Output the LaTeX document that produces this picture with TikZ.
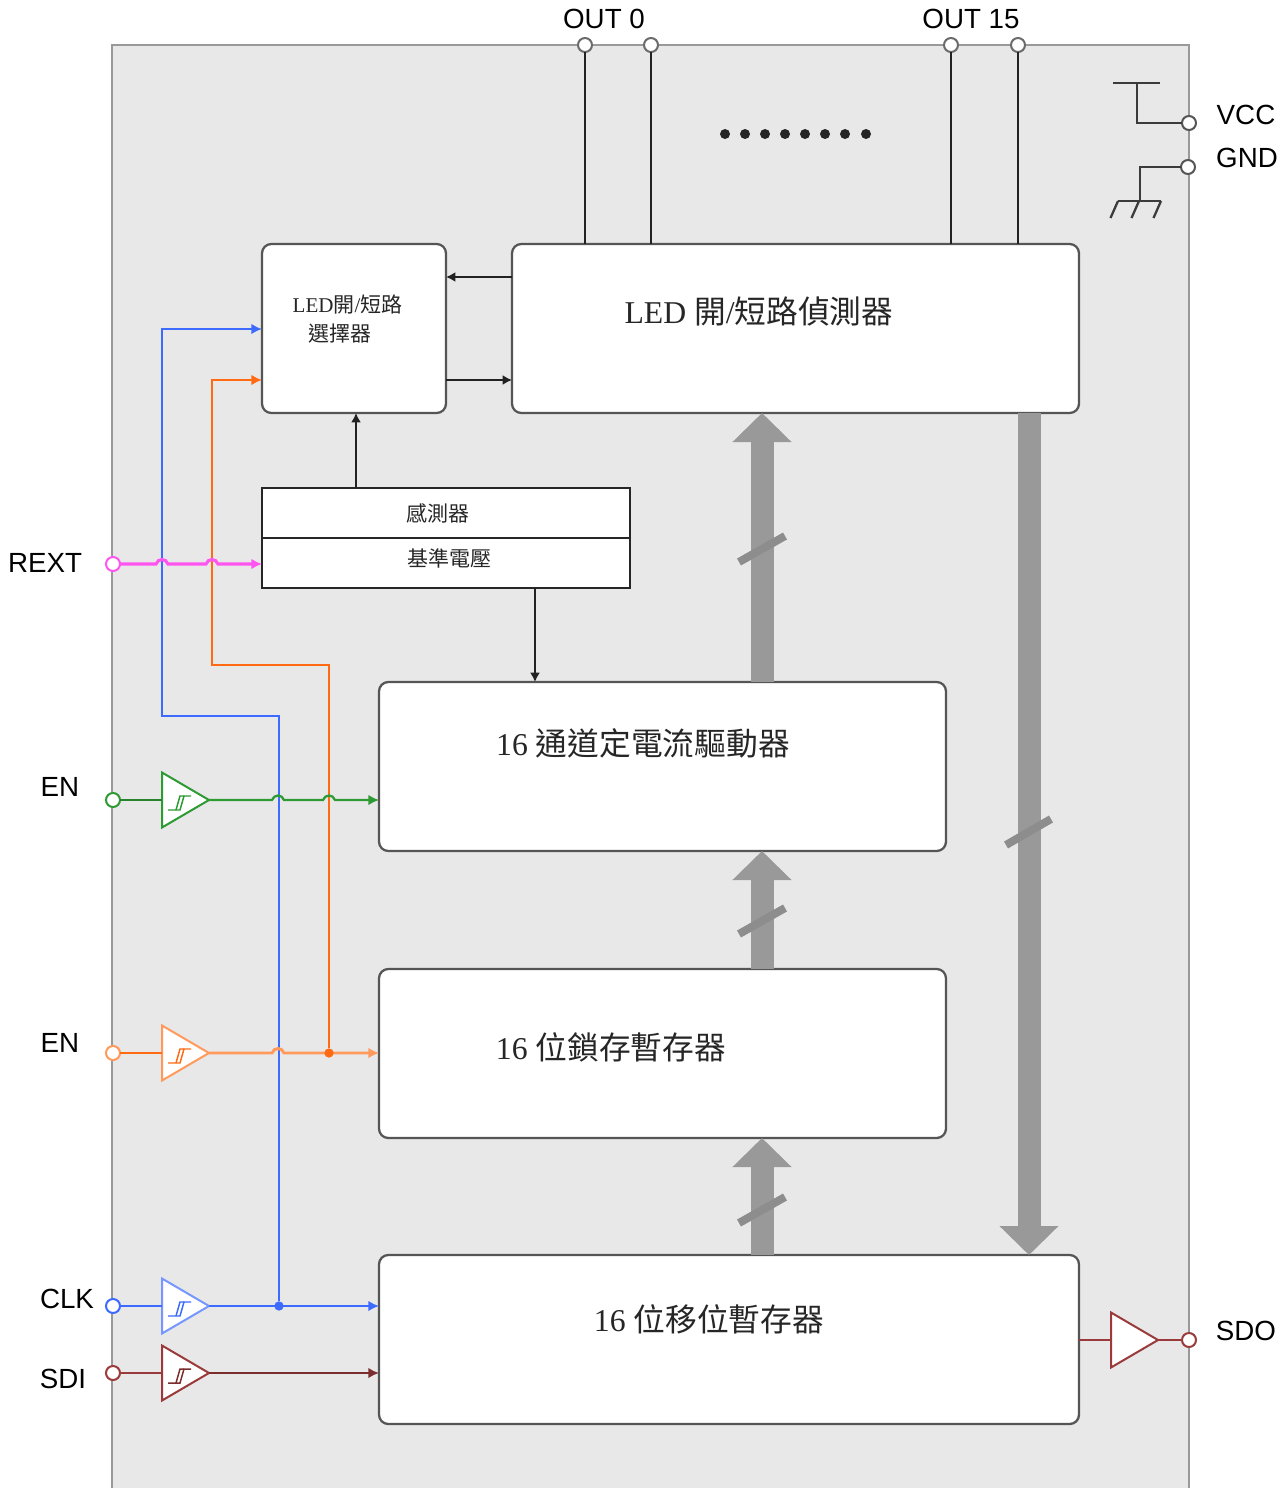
\documentclass[tikz,border=0pt]{standalone}
\usepackage{fontspec}
\setmainfont{Liberation Serif}
\newfontfamily\cjk{Noto Sans CJK TC}
\newfontfamily\pinfont{Liberation Sans}
\definecolor{chipgray}{HTML}{E8E8E8}
\definecolor{rimgray}{HTML}{999999}
\definecolor{busgray}{HTML}{999999}
\definecolor{boxedge}{HTML}{555555}
\definecolor{wiredark}{HTML}{222222}
\definecolor{enablegreen}{HTML}{2E9A34}
\definecolor{latchorange}{HTML}{FF6A13}
\definecolor{latchpale}{HTML}{FF9A5C}
\definecolor{clockblue}{HTML}{3D6BFF}
\definecolor{datared}{HTML}{9A3A3A}
\definecolor{rextpink}{HTML}{FF55F0}
\usetikzlibrary{arrows.meta,shapes.geometric}
\tikzset{
    block/.style 2 args={draw=boxedge, fill=white, rounded corners=7pt, line width=1.7pt, anchor=north west, outer sep=0pt, inner sep=0pt, minimum width=#1*0.75pt, minimum height=#2*0.75pt},
    cell/.style={draw=black!85, fill=white, line width=1.5pt, anchor=north west, outer sep=0pt, inner sep=0pt, minimum width=276pt, minimum height=37.5pt},
    pin/.style={circle, draw=#1, fill=white, line width=1.5pt, minimum size=10.5pt, inner sep=0pt, outer sep=0pt},
    buffer/.style={isosceles triangle, isosceles triangle apex angle=60, isosceles triangle stretches, draw=#1, fill=white, line width=1.5pt, minimum width=41.25pt, minimum height=35.25pt, inner sep=0pt, outer sep=0pt, anchor=lower side},
    junction/.style={circle, fill=#1, minimum size=7pt, inner sep=0pt, outer sep=0pt},
    pin_label/.style={font=\pinfont\fontsize{20.8pt}{22pt}\selectfont, text=black},
    big_label/.style={font=\fontsize{23.8pt}{28pt}\selectfont, text=black!85},
    small_label/.style={font=\fontsize{15.75pt}{18pt}\selectfont, text=black!85},
    bus_arrow/.style={-{Triangle[length=21.75pt,width=43pt]}, line width=17.25pt, busgray},
    bus_slash/.style={line width=6pt, busgray!92!black},
    ctrl_arrow/.style={-{Latex[length=7pt,width=7.5pt]}, line width=1.5pt, wiredark},
    sig_arrow/.style={-{Latex[length=8pt,width=8pt]}, line width=#1},
    schmitt/.pic={
      \draw[line width=1.1pt] (-12,7) -- (0,7) -- (4,-7) -- (11,-7);
      \draw[line width=1.1pt] (-4,7) -- (0,-7) -- (4,-7);
    }
}
% bump of a wire over a crossing wire
\newcommand{\hopover}[2]{-- (#1-6,#2) .. controls (#1-4,#2-6) and (#1+4,#2-6) .. (#1+6,#2)}

\begin{document}
\begin{tikzpicture}[x=0.75pt, y=-0.75pt]
  \useasboundingbox (0,0) rectangle (1287,1488);

  % Chip body, open at the bottom
  \fill[chipgray] (112,45) rectangle (1189,1488);
  \draw[rimgray, line width=1.7pt] (112,1488) |- (1189,45) -- (1189,1488);

  % Blocks
  \node[block={184}{169}] (sel_box) at (262,244) {};
  \node[block={567}{169}] (det_box) at (512,244) {};
  \node[block={567}{169}] (drv_box) at (379,682) {};
  \node[block={567}{169}] (lat_box) at (379,969) {};
  \node[block={700}{169}] (shf_box) at (379,1255) {};
  \node[cell] (sense_cell) at (262,487.5) {};
  \node[cell] (vref_cell) at (262,537.5) {};

  % Block texts
  \node[small_label, anchor=west] (sel_text_a) at (288,305) {LED{\cjk 開}/{\cjk 短路}};
  \node[small_label] (sel_text_b) at (340,334) {\cjk 選擇器};
  \node[big_label] (det_text) at (759,311) {LED {\cjk 開}/{\cjk 短路偵測器}};
  \node[big_label] (drv_text) at (643,743) {16 {\cjk 通道定電流驅動器}};
  \node[big_label] (lat_text) at (611,1047) {16 {\cjk 位鎖存暫存器}};
  \node[big_label] (shf_text) at (709,1319) {16 {\cjk 位移位暫存器}};
  \node[small_label] (sense_text) at (438,513) {\cjk 感測器};
  \node[small_label] (vref_text) at (449,558) {\cjk 基準電壓};

  % Pins
  \node[pin=rimgray!70!black] (out_a) at (585,45) {};
  \node[pin=rimgray!70!black] (out_b) at (651,45) {};
  \node[pin=rimgray!70!black] (out_c) at (951,45) {};
  \node[pin=rimgray!70!black] (out_d) at (1018,45) {};
  \node[pin=boxedge] (vcc_pin) at (1189,123) {};
  \node[pin=boxedge] (gnd_pin) at (1188,167) {};
  \node[pin=rextpink] (rext_pin) at (113,564) {};
  \node[pin=enablegreen] (en_a_pin) at (113,800) {};
  \node[pin=latchpale] (en_b_pin) at (113,1053) {};
  \node[pin=clockblue] (clk_pin) at (113,1306) {};
  \node[pin=datared] (sdi_pin) at (113,1373) {};
  \node[pin=datared] (sdo_pin) at (1189,1340) {};

  % Pin labels
  \node[pin_label] (out_a_text) at (604,19) {OUT 0};
  \node[pin_label] (out_d_text) at (971,19) {OUT 15};
  \node[pin_label] (vcc_text) at (1246,115) {VCC};
  \node[pin_label] (gnd_text) at (1247,158) {GND};
  \node[pin_label] (rext_text) at (45,563) {REXT};
  \node[pin_label] (en_a_text) at (60,787) {EN};
  \node[pin_label] (en_b_text) at (60,1043) {EN};
  \node[pin_label] (clk_text) at (67,1299) {CLK};
  \node[pin_label] (sdi_text) at (63,1379) {SDI};
  \node[pin_label] (sdo_text) at (1246,1331) {SDO};

  % Buffers
  \node[buffer=enablegreen] (en_a_buf) at (162,800) {};
  \node[buffer=latchpale] (en_b_buf) at (162,1053) {};
  \node[buffer=clockblue!70] (clk_buf) at (162,1306) {};
  \node[buffer=datared] (sdi_buf) at (162,1373) {};
  \node[buffer=datared] (sdo_buf) at (1111,1340) {};
  \pic[enablegreen] at (180,803) {schmitt};
  \pic[latchorange] at (180,1056) {schmitt};
  \pic[clockblue] at (180,1309) {schmitt};
  \pic[datared!80!black] at (180,1376) {schmitt};

  % Outputs down to the detector
  \draw[wiredark, line width=1.3pt] (out_a) -- (out_a |- det_box.north);
  \draw[wiredark, line width=1.3pt] (out_b) -- (out_b |- det_box.north);
  \draw[wiredark, line width=1.3pt] (out_c) -- (out_c |- det_box.north);
  \draw[wiredark, line width=1.3pt] (out_d) -- (out_d |- det_box.north);

  \foreach \dotx in {725,745,765,785,805,825,845,866}
    \fill[black!85] (\dotx,134) circle (5);

  % Supply symbols
  \draw[boxedge!70!black, line width=1.7pt] (1113,83) -- (1160,83);
  \draw[boxedge!70!black, line width=1.7pt] (1137,83) |- (vcc_pin);
  \draw[boxedge!70!black, line width=1.7pt] (gnd_pin) -| (1140,201);
  \draw[boxedge!70!black, line width=1.7pt] (1118,201) -- (1161,201);
  \foreach \gndx in {1118,1139,1161}
    \draw[boxedge!70!black, line width=1.7pt] (\gndx,201) -- (\gndx-7.5,218);

  % Block to block control
  \draw[ctrl_arrow] (det_box.west |- 0,277) -- (sel_box.east |- 0,277);
  \draw[ctrl_arrow] (sel_box.east |- 0,380) -- (det_box.west |- 0,380);
  \draw[ctrl_arrow] (sense_cell.north -| 356,0) -- (sel_box.south -| 356,0);
  \draw[ctrl_arrow] (vref_cell.south -| 535,0) -- (drv_box.north -| 535,0);

  % Buses
  \draw[bus_arrow] (drv_box.north -| 762,0) -- (det_box.south -| 762,0);
  \draw[bus_arrow] (lat_box.north -| 762,0) -- (drv_box.south -| 762,0);
  \draw[bus_arrow] (shf_box.north -| 762,0) -- (lat_box.south -| 762,0);
  \draw[bus_arrow] (det_box.south -| 1029,0) -- (shf_box.north -| 1029,0);
  \draw[bus_slash] (739,562) -- (785,536);
  \draw[bus_slash] (739,934) -- (785,908);
  \draw[bus_slash] (739,1223) -- (785,1197);
  \draw[bus_slash] (1006,845) -- (1051,819);

  % Signal wires
  \draw[enablegreen!85!black, line width=1.7pt] (en_a_pin) -- (en_a_buf.lower side);
  \draw[latchorange, line width=1.7pt] (en_b_pin) -- (en_b_buf.lower side);
  \draw[clockblue, line width=1.7pt] (clk_pin) -- (clk_buf.lower side);
  \draw[datared, line width=1.7pt] (sdi_pin) -- (sdi_buf.lower side);
  \draw[datared, line width=1.7pt] (shf_box.east |- sdo_buf) -- (sdo_buf.lower side);
  \draw[datared, line width=1.7pt] (sdo_buf.apex) -- (sdo_pin);

  \draw[sig_arrow=1.7pt, clockblue] (clk_buf.apex) -- (shf_box.west |- clk_buf);
  \draw[sig_arrow=1.7pt, datared!80!black] (sdi_buf.apex) -- (shf_box.west |- sdi_buf);
  \node[junction=clockblue] (clk_tap) at (279,1306) {};
  \draw[sig_arrow=1.7pt, clockblue] (clk_tap) |- (162,716) |- (sel_box.west |- 0,329);

  \draw[sig_arrow=2.2pt, latchpale] (en_b_buf.apex) \hopover{278}{1053} -- (lat_box.west |- en_b_buf);
  \node[junction=latchorange] (en_b_tap) at (329,1053) {};
  \draw[sig_arrow=1.7pt, latchorange] (en_b_tap) |- (212,665) |- (sel_box.west |- 0,380);

  \draw[sig_arrow=1.7pt, enablegreen] (en_a_buf.apex) \hopover{278}{800} \hopover{329}{800} -- (drv_box.west |- en_a_buf);
  \draw[sig_arrow=2.3pt, rextpink] (rext_pin) \hopover{162}{564} \hopover{212}{564} -- (vref_cell.west |- rext_pin);

\end{tikzpicture}
\end{document}
